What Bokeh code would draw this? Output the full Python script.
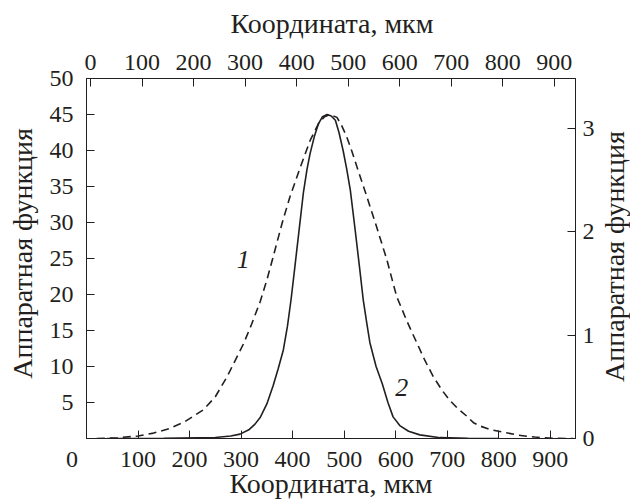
import math
from bokeh.plotting import figure
from bokeh.layouts import row, column
from bokeh.models import Range1d, LinearAxis, FixedTicker, Label
from bokeh.core.properties import value
from bokeh.embed import file_html
from bokeh.resources import INLINE

# ---- data ----
bottom_ticks = [0, 100, 200, 300, 400, 500, 600, 700, 800, 900]
top_ticks = [0, 100, 200, 300, 400, 500, 600, 700, 800, 900]
left_ticks = [5, 10, 15, 20, 25, 30, 35, 40, 45, 50]
right_ticks = [0, 1, 2, 3]

# curve 1 (dashed), left axis units
curve1_x = [20, 60, 100, 130, 160, 190, 227, 250, 273, 305, 320, 337, 350, 361, 380, 395,
            415, 434, 450, 462, 472, 486, 495, 505, 515, 525, 544, 563, 583, 602, 612, 620,
            630, 641, 657, 673, 690, 705, 720, 738, 751, 765, 783, 800, 815, 835, 854, 870,
            886, 910, 945]
curve1_y = [0.0, 0.1, 0.35, 0.75, 1.35, 2.3, 4.0, 5.8, 8.6, 13.2, 15.8, 19.0, 22.0, 24.9, 30.0, 33.6,
            37.7, 41.4, 43.7, 44.7, 45.0, 44.6, 43.5, 41.9, 39.9, 37.7, 33.6, 29.4, 24.8, 19.7, 18.0, 16.6,
            15.0, 13.3, 10.8, 8.6, 6.7, 5.3, 4.2, 3.1, 2.2, 1.7, 1.25, 1.0, 0.8, 0.5, 0.32, 0.2,
            0.1, 0.02, 0.0]

# curve 2 (solid), right axis units
curve2_x = [40, 150, 250, 280, 298, 315, 327, 337, 350, 362, 372, 382, 390, 397, 404, 412,
            421, 428, 434, 442, 450, 458, 467, 475, 483, 490, 498, 505, 512, 521, 530, 537,
            544, 550, 562, 574, 585, 595, 608, 625, 647, 686, 740, 800]
curve2_y = [0.0, 0.001, 0.010, 0.024, 0.042, 0.084, 0.139, 0.202, 0.334, 0.508, 0.675, 0.856,
            1.086, 1.344, 1.643, 1.991, 2.381, 2.604, 2.757, 2.917, 3.042, 3.112, 3.133, 3.119,
            3.077, 2.959, 2.785, 2.604, 2.402, 2.033, 1.650, 1.344, 1.114, 0.926, 0.696, 0.529,
            0.348, 0.209, 0.125, 0.070, 0.035, 0.008, 0.002, 0.0]

axis_title = "Координата, мкм"
y_title = "Аппаратная функция"

FONT = "Liberation Serif"
TXT = "#231f20"
TICK_PX = "24px"
TITLE_PX = "28px"

# layout sizes (pixels)
W, H = 630, 501
TOP_H, LEFT_W, RIGHT_W = 40, 40, 33
MAIN_W, MAIN_H = W - LEFT_W - RIGHT_W, H - TOP_H

p = figure(width=MAIN_W, height=MAIN_H, x_range=Range1d(0, 949), y_range=Range1d(0, 50),
           output_backend="svg", toolbar_location=None,
           min_border_left=46, min_border_right=21, min_border_top=38, min_border_bottom=62)
p.extra_x_ranges = {"top": Range1d(-7.75, 941)}
p.extra_y_ranges = {"right": Range1d(0, 3.481)}
p.xgrid.visible = False
p.ygrid.visible = False
p.outline_line_color = TXT
p.background_fill_color = "white"
p.border_fill_color = "white"

bottom_axis = p.below[0]
left_axis = p.left[0]
top_axis = LinearAxis(x_range_name="top")
right_axis = LinearAxis(y_range_name="right")
p.add_layout(top_axis, "above")
p.add_layout(right_axis, "right")

bottom_axis.ticker = FixedTicker(ticks=bottom_ticks)
left_axis.ticker = FixedTicker(ticks=left_ticks)
top_axis.ticker = FixedTicker(ticks=top_ticks)
right_axis.ticker = FixedTicker(ticks=right_ticks)

for ax in [bottom_axis, left_axis, top_axis, right_axis]:
    ax.major_tick_in = 8
    ax.major_tick_out = 0
    ax.minor_tick_in = 0
    ax.minor_tick_out = 0
    ax.axis_line_color = TXT
    ax.major_tick_line_color = TXT
    ax.major_label_text_font = FONT
    ax.major_label_text_font_size = TICK_PX
    ax.major_label_text_color = TXT

# the bottom "0" sits left of its tick in the original
bottom_axis.major_label_overrides = {0: "0\u2003\u2009"}

bottom_axis.axis_label = axis_title
bottom_axis.axis_label_text_font = FONT
bottom_axis.axis_label_text_font_size = TITLE_PX
bottom_axis.axis_label_text_font_style = "normal"
bottom_axis.axis_label_text_color = TXT
bottom_axis.major_label_standoff = 7
bottom_axis.axis_label_standoff = -7

top_axis.major_label_standoff = 9
left_axis.major_label_standoff = 13
right_axis.major_label_standoff = 7

p.line(curve1_x, curve1_y, line_color=TXT, line_width=1.6, line_dash="8 5")
p.line(curve2_x, curve2_y, y_range_name="right", line_color=TXT, line_width=1.6)

p.add_layout(Label(x=304, y=24.8, text="1", text_font=FONT, text_font_style="italic",
                   text_font_size="26px", text_color=TXT, text_align="center",
                   text_baseline="middle"))
p.add_layout(Label(x=612, y=7.1, text="2", text_font=FONT, text_font_style="italic",
                   text_font_size="26px", text_color=TXT, text_align="center",
                   text_baseline="middle"))


def strip(width, height, text, cx, cy_from_top, angle=0.0):
    s = figure(width=width, height=height, x_range=Range1d(0, width), y_range=Range1d(0, height),
               output_backend="svg", toolbar_location=None, x_axis_location=None,
               y_axis_location=None, min_border=0)
    s.xgrid.visible = False
    s.ygrid.visible = False
    s.outline_line_color = None
    s.background_fill_color = "white"
    s.border_fill_color = "white"
    s.text(x=[cx], y=[height - cy_from_top], text=[text], angle=angle,
           text_font=value(FONT), text_font_size=TITLE_PX, text_color=TXT,
           text_align="center", text_baseline="middle")
    return s


top_strip = strip(W, TOP_H, axis_title, 331.5, 23)
left_strip = strip(LEFT_W, MAIN_H, y_title, 22, 264 - TOP_H, math.pi / 2)
right_strip = strip(RIGHT_W, MAIN_H, y_title, 17, 268 - TOP_H, math.pi / 2)

layout = column(top_strip, row(left_strip, p, right_strip))

open("out.html", "w").write(file_html(layout, INLINE))
